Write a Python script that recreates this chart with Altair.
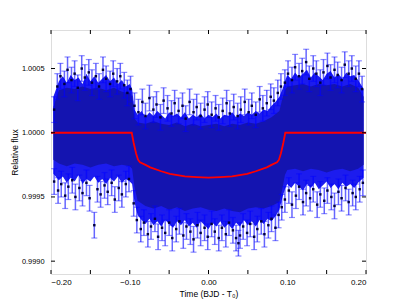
import altair as alt
import pandas as pd

# ---- data ----
# dark dense core of the cloud
CORE_T = [-0.197, -0.19, -0.18, -0.17, -0.16, -0.15, -0.14, -0.13, -0.12, -0.11, -0.10, -0.097,
          -0.094, -0.09, -0.08, -0.07, -0.06, -0.05, -0.04, -0.03, -0.02, -0.01, 0.0,
          0.01, 0.02, 0.03, 0.04, 0.05, 0.06, 0.07, 0.08, 0.09, 0.094, 0.097,
          0.10, 0.11, 0.12, 0.13, 0.14, 0.15, 0.16, 0.17, 0.18, 0.19, 0.197]
CORE_TOP = [1.00020, 1.00033, 1.00035, 1.00034, 1.00036, 1.00034, 1.00035, 1.00033, 1.00035, 1.00032, 1.00031, 1.00028,
            1.00011, 1.00008, 1.00007, 1.00009, 1.00007, 1.00006, 1.00008, 1.00005, 1.00007, 1.00005, 1.00006,
            1.00007, 1.00005, 1.00007, 1.00006, 1.00008, 1.00007, 1.00009, 1.00012, 1.00017, 1.00027, 1.00033,
            1.00036, 1.00037, 1.00038, 1.00036, 1.00038, 1.00037, 1.00038, 1.00036, 1.00038, 1.00035, 1.00028]
CORE_BOT = [0.99979, 0.99976, 0.99974, 0.99976, 0.99975, 0.99973, 0.99975, 0.99976, 0.99974, 0.99975, 0.99974, 0.99972,
            0.99958, 0.99947, 0.99943, 0.99941, 0.99943, 0.99940, 0.99942, 0.99939, 0.99941, 0.99942, 0.99940,
            0.99939, 0.99941, 0.99939, 0.99938, 0.99941, 0.99942, 0.99941, 0.99943, 0.99946, 0.99957, 0.99967,
            0.99971, 0.99972, 0.99970, 0.99972, 0.99971, 0.99969, 0.99971, 0.99972, 0.99970, 0.99972, 0.99975]

# outer (bright blue) extent of the cloud
OUT_T = [-0.197, -0.19, -0.185, -0.18, -0.175, -0.17, -0.165, -0.16, -0.155, -0.15, -0.145, -0.14, -0.135, -0.13,
         -0.125, -0.12, -0.115, -0.11, -0.105, -0.10, -0.097,
         -0.094, -0.09, -0.085, -0.08, -0.075, -0.07, -0.065, -0.06, -0.055, -0.05, -0.045, -0.04, -0.035, -0.03,
         -0.025, -0.02, -0.015, -0.01, -0.005, 0.0, 0.005, 0.01, 0.015, 0.02, 0.025, 0.03, 0.035, 0.04, 0.045,
         0.05, 0.055, 0.06, 0.065, 0.07, 0.075, 0.08, 0.085, 0.09, 0.094,
         0.097, 0.10, 0.105, 0.11, 0.115, 0.12, 0.125, 0.13, 0.135, 0.14, 0.145, 0.15, 0.155, 0.16, 0.165, 0.17,
         0.175, 0.18, 0.185, 0.19, 0.197]
OUT_TOP = [1.00028, 1.00040, 1.00044, 1.00039, 1.00045, 1.00041, 1.00043, 1.00038, 1.00046, 1.00040, 1.00044,
           1.00039, 1.00042, 1.00045, 1.00040, 1.00043, 1.00038, 1.00041, 1.00036, 1.00038, 1.00034,
           1.00018, 1.00014, 1.00017, 1.00012, 1.00016, 1.00013, 1.00017, 1.00014, 1.00011, 1.00016, 1.00013,
           1.00015, 1.00012, 1.00016, 1.00011, 1.00014, 1.00012, 1.00015, 1.00011, 1.00014, 1.00012, 1.00015,
           1.00011, 1.00014, 1.00013, 1.00016, 1.00012, 1.00015, 1.00013, 1.00016, 1.00014, 1.00017, 1.00015,
           1.00018, 1.00017, 1.00021, 1.00024, 1.00028, 1.00034,
           1.00040, 1.00045, 1.00042, 1.00047, 1.00043, 1.00046, 1.00049, 1.00043, 1.00047, 1.00044, 1.00041,
           1.00046, 1.00048, 1.00043, 1.00046, 1.00042, 1.00047, 1.00044, 1.00045, 1.00041, 1.00034]
OUT_BOT = [0.99968, 0.99963, 0.99966, 0.99961, 0.99965, 0.99962, 0.99967, 0.99960, 0.99964, 0.99962, 0.99966,
           0.99961, 0.99964, 0.99960, 0.99965, 0.99962, 0.99966, 0.99961, 0.99964, 0.99962, 0.99960,
           0.99946, 0.99936, 0.99932, 0.99929, 0.99933, 0.99928, 0.99931, 0.99927, 0.99932, 0.99929, 0.99926,
           0.99931, 0.99928, 0.99932, 0.99927, 0.99930, 0.99926, 0.99931, 0.99928, 0.99925, 0.99930, 0.99927,
           0.99931, 0.99926, 0.99929, 0.99925, 0.99930, 0.99927, 0.99932, 0.99928, 0.99931, 0.99927, 0.99932,
           0.99929, 0.99933, 0.99931, 0.99935, 0.99940, 0.99950,
           0.99956, 0.99960, 0.99957, 0.99961, 0.99958, 0.99955, 0.99960, 0.99957, 0.99961, 0.99956, 0.99959,
           0.99962, 0.99957, 0.99960, 0.99956, 0.99961, 0.99958, 0.99960, 0.99957, 0.99961, 0.99965]

# individual edge points (time, flux); error bar half-length ERR
PT_T = [-0.196, -0.192, -0.188, -0.183, -0.179, -0.174, -0.170, -0.166, -0.161, -0.157, -0.152, -0.148, -0.143,
        -0.139, -0.134, -0.130, -0.125, -0.121, -0.116, -0.112, -0.107, -0.103, -0.099,
        -0.094, -0.089, -0.084, -0.080, -0.075, -0.070, -0.066, -0.061, -0.057, -0.052, -0.047, -0.043, -0.038,
        -0.033, -0.029, -0.024, -0.019, -0.015, -0.010, -0.005, -0.001, 0.004, 0.009, 0.013, 0.018, 0.023, 0.027,
        0.032, 0.037, 0.041, 0.046, 0.051, 0.055, 0.060, 0.065, 0.069, 0.074, 0.079, 0.083, 0.088, 0.092,
        0.097, 0.101, 0.106, 0.110, 0.115, 0.119, 0.124, 0.128, 0.133, 0.137, 0.142, 0.146, 0.151, 0.155, 0.160,
        0.164, 0.169, 0.173, 0.178, 0.182, 0.187, 0.191, 0.195,
        -0.196, -0.191, -0.187, -0.182, -0.178, -0.173, -0.169, -0.164, -0.160, -0.155, -0.151, -0.145, -0.141,
        -0.137, -0.132, -0.128, -0.123, -0.119, -0.114, -0.110, -0.105, -0.101,
        -0.095, -0.091, -0.086, -0.082, -0.077, -0.073, -0.068, -0.064, -0.059, -0.055, -0.050, -0.046, -0.041,
        -0.037, -0.032, -0.028, -0.023, -0.019, -0.014, -0.010, -0.005, -0.001, 0.004, 0.008, 0.013, 0.017, 0.022,
        0.026, 0.031, 0.035, 0.038, 0.040, 0.044, 0.049, 0.053, 0.058, 0.062, 0.067, 0.071, 0.076, 0.080, 0.085,
        0.089, 0.093,
        0.097, 0.102, 0.106, 0.111, 0.115, 0.120, 0.124, 0.129, 0.133, 0.138, 0.142, 0.147, 0.151, 0.156, 0.160,
        0.165, 0.169, 0.174, 0.178, 0.183, 0.187, 0.192, 0.196]
PT_F = [1.00018, 1.00036, 1.00044, 1.00038, 1.00049, 1.00041, 1.00046, 1.00035, 1.00050, 1.00043, 1.00047, 1.00039,
        1.00044, 1.00036, 1.00049, 1.00042, 1.00038, 1.00046, 1.00040, 1.00044, 1.00037, 1.00031, 1.00034,
        1.00021, 1.00016, 1.00024, 1.00013, 1.00027, 1.00018, 1.00022, 1.00012, 1.00025, 1.00019, 1.00015, 1.00023,
        1.00017, 1.00021, 1.00011, 1.00024, 1.00016, 1.00020, 1.00013, 1.00018, 1.00022, 1.00014, 1.00019, 1.00012,
        1.00017, 1.00023, 1.00015, 1.00020, 1.00013, 1.00018, 1.00024, 1.00016, 1.00021, 1.00014, 1.00026, 1.00019,
        1.00023, 1.00028, 1.00025, 1.00031, 1.00036,
        1.00039, 1.00046, 1.00041, 1.00051, 1.00044, 1.00048, 1.00055, 1.00042, 1.00050, 1.00046, 1.00039, 1.00047,
        1.00052, 1.00043, 1.00049, 1.00045, 1.00041, 1.00053, 1.00046, 1.00050, 1.00042, 1.00046, 1.00034,
        0.99962, 0.99955, 0.99960, 0.99951, 0.99958, 0.99963, 0.99950, 0.99957, 0.99953, 0.99961, 0.99949, 0.99928,
        0.99956, 0.99952, 0.99959, 0.99954, 0.99961, 0.99948, 0.99957, 0.99952, 0.99960, 0.99964,
        0.99945, 0.99932, 0.99925, 0.99930, 0.99921, 0.99927, 0.99933, 0.99919, 0.99926, 0.99922, 0.99930, 0.99918,
        0.99925, 0.99931, 0.99920, 0.99927, 0.99923, 0.99917, 0.99928, 0.99922, 0.99926, 0.99919, 0.99929, 0.99923,
        0.99918, 0.99926, 0.99921, 0.99930, 0.99924, 0.99918, 0.99914, 0.99920, 0.99927, 0.99922, 0.99929, 0.99919,
        0.99925, 0.99931, 0.99921, 0.99928, 0.99933, 0.99926, 0.99936, 0.99942,
        0.99948, 0.99955, 0.99944, 0.99951, 0.99958, 0.99946, 0.99953, 0.99949, 0.99956, 0.99944, 0.99952, 0.99947,
        0.99955, 0.99950, 0.99943, 0.99954, 0.99949, 0.99957, 0.99946, 0.99953, 0.99950, 0.99956, 0.99961]
ERR = 0.0001

# transit model (red line)
MODEL_T = [-0.2, -0.0975, -0.095, -0.092, -0.0895, -0.087, -0.08, -0.074, -0.06, -0.049, -0.03, -0.015, 0.0,
           0.015, 0.03, 0.049, 0.06, 0.074, 0.08, 0.087, 0.0895, 0.092, 0.095, 0.0975, 0.2]
MODEL_F = [1.0, 1.0, 0.99992, 0.99984, 0.99979, 0.99977, 0.99975, 0.99973, 0.99970, 0.99968, 0.99966, 0.999655,
           0.99965, 0.999655, 0.99966, 0.99968, 0.99970, 0.99973, 0.99975, 0.99977, 0.99979, 0.99984, 0.99992,
           1.0, 1.0]

X_TICKS = [-0.2, -0.15, -0.1, -0.05, 0.0, 0.05, 0.1, 0.15, 0.2]
Y_TICKS = [0.9990, 0.9995, 1.0000, 1.0005]

W, H = 315, 244
FONT = "DejaVu Sans"

core_df = pd.DataFrame({"t": CORE_T, "top": CORE_TOP, "bot": CORE_BOT})
out_df = pd.DataFrame({"t": OUT_T, "top": OUT_TOP, "bot": OUT_BOT})
pts = pd.DataFrame({"t": PT_T, "f": PT_F})
pts["lo"] = pts["f"] - ERR
pts["hi"] = pts["f"] + ERR
model = pd.DataFrame({"t": MODEL_T, "f": MODEL_F})
xt = pd.DataFrame({"v": X_TICKS})
yt = pd.DataFrame({"v": Y_TICKS})

xs = alt.Scale(domain=[-0.2, 0.2], nice=False, zero=False)
ys = alt.Scale(domain=[0.9989, 1.0008], nice=False, zero=False)

xax = alt.Axis(values=X_TICKS, format=".2f", title="Time (BJD - T₀)", tickSize=0, domain=False,
               grid=False, labelPadding=4, titlePadding=3, labelFontSize=8, titleFontSize=8.5,
               titleFontWeight="normal")
yax = alt.Axis(values=Y_TICKS, format=".4f", title="Relative flux", tickSize=0, domain=False,
               grid=False, labelPadding=7, titlePadding=2, labelFontSize=7.4, titleFontSize=8.5,
               titleFontWeight="normal")

outer = alt.Chart(out_df).mark_area(color="#1c1cee", opacity=1).encode(
    x=alt.X("t:Q", scale=xs, axis=xax), y=alt.Y("bot:Q", scale=ys, axis=yax), y2="top:Q")
core = alt.Chart(core_df).mark_area(color="#1414b0", opacity=1).encode(
    x=alt.X("t:Q", scale=xs), y=alt.Y("bot:Q", scale=ys), y2="top:Q")

bars = alt.Chart(pts).mark_rule(color="#0000ff", opacity=0.6, strokeWidth=1.5).encode(
    x=alt.X("t:Q", scale=xs), y=alt.Y("lo:Q", scale=ys), y2="hi:Q")
cap_lo = alt.Chart(pts).mark_tick(color="#0000ff", opacity=0.45, orient="horizontal", size=6, thickness=1.2).encode(
    x=alt.X("t:Q", scale=xs), y=alt.Y("lo:Q", scale=ys))
cap_hi = alt.Chart(pts).mark_tick(color="#0000ff", opacity=0.45, orient="horizontal", size=6, thickness=1.2).encode(
    x=alt.X("t:Q", scale=xs), y=alt.Y("hi:Q", scale=ys))
dots = alt.Chart(pts).mark_square(color="#000040", size=6, opacity=1).encode(
    x=alt.X("t:Q", scale=xs), y=alt.Y("f:Q", scale=ys))

line = alt.Chart(model).mark_line(color="#ff0000", strokeWidth=1.8).encode(
    x=alt.X("t:Q", scale=xs), y=alt.Y("f:Q", scale=ys))

tb = alt.Chart(xt).mark_rule(color="black", strokeWidth=1).encode(
    x=alt.X("v:Q", scale=xs), y=alt.value(H), y2=alt.value(H - 4))
tt = alt.Chart(xt).mark_rule(color="black", strokeWidth=1).encode(
    x=alt.X("v:Q", scale=xs), y=alt.value(0), y2=alt.value(4))
tl = alt.Chart(yt).mark_rule(color="black", strokeWidth=1).encode(
    y=alt.Y("v:Q", scale=ys), x=alt.value(0), x2=alt.value(4))
tr = alt.Chart(yt).mark_rule(color="black", strokeWidth=1).encode(
    y=alt.Y("v:Q", scale=ys), x=alt.value(W), x2=alt.value(W - 4))

chart = alt.layer(outer, core, bars, cap_lo, cap_hi, dots, line, tb, tt, tl, tr).properties(
    width=W, height=H,
    autosize=alt.AutoSizeParams(type="none"),
    padding={"left": 43, "top": 22, "right": 30, "bottom": 30},
).configure_view(stroke="black", strokeWidth=1.2).configure_axis(
    labelFont=FONT, titleFont=FONT,
    labelColor="black", titleColor="black", titleFontWeight="normal"
).configure(background="white")

chart.save("out.html", embed_options={"renderer": "svg", "actions": False})
